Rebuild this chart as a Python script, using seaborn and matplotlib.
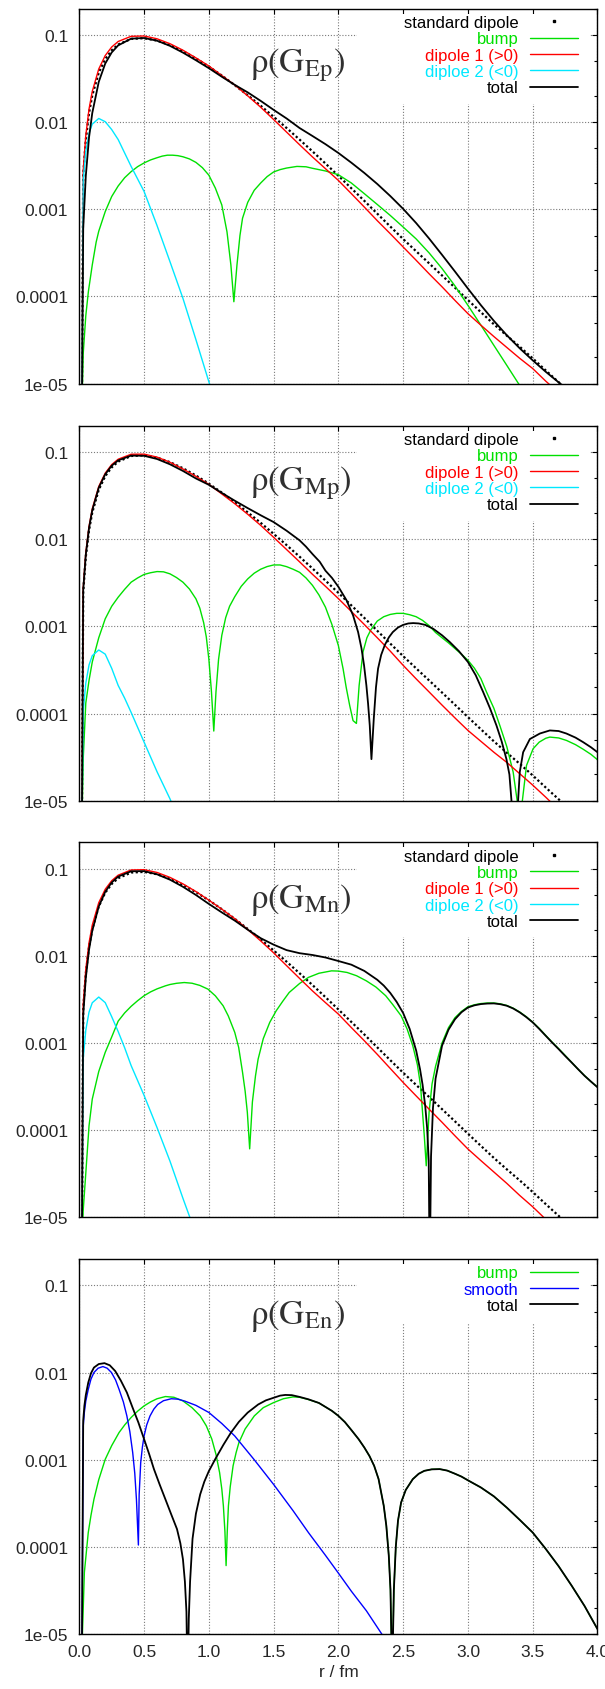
import matplotlib
matplotlib.use("Agg")
import matplotlib.pyplot as plt
from matplotlib.lines import Line2D
from matplotlib.patches import Rectangle
from matplotlib.ticker import LogLocator, NullFormatter
import seaborn as sns

# ---------------------------------------------------------------- data
# radial grid (fm) shared by the smooth dipole-type curves
R_GRID = [0.02, 0.03, 0.05, 0.075, 0.1, 0.15, 0.2, 0.25, 0.3, 0.4, 0.5, 0.6, 0.7,
          0.8, 0.9, 1.0, 1.1, 1.2, 1.3, 1.4, 1.5, 1.6, 1.7, 1.8, 1.9, 2.0, 2.1,
          2.2, 2.3, 2.4, 2.5, 2.6, 2.7, 2.8, 2.9, 3.0, 3.1, 3.2, 3.3, 3.4, 3.5,
          3.6, 3.7, 3.8]

# standard dipole (same in the three upper panels)
STD_DIPOLE = [5e-6, 2.45e-3, 6.26e-3, 0.01266, 0.0202, 0.0368, 0.0528, 0.0666,
              0.0775, 0.0899, 0.0916, 0.0861, 0.0764, 0.0651, 0.0537, 0.0433,
              0.0342, 0.0265, 0.0203, 0.0154, 0.0115, 8.55e-3, 6.3e-3, 4.61e-3,
              3.35e-3, 2.42e-3, 1.74e-3, 1.25e-3, 8.9e-4, 6.35e-4, 4.55e-4,
              3.3e-4, 2.4e-4, 1.74e-4, 1.26e-4, 9.1e-5, 6.6e-5, 4.8e-5, 3.55e-5,
              2.65e-5, 1.95e-5, 1.42e-5, 1.04e-5, 7.6e-6]

# ---- rho(G_Ep)
EP_DIPOLE1 = [5e-6, 2.75e-3, 6.99e-3, 0.01409, 0.02245, 0.0406, 0.0579, 0.0726,
              0.084, 0.0963, 0.0971, 0.0902, 0.0792, 0.0667, 0.0545, 0.044,
              0.0342, 0.0266, 0.02, 0.0148, 0.0107, 7.67e-3, 5.5e-3, 3.98e-3,
              2.92e-3, 2.14e-3, 1.51e-3, 1.06e-3, 7.4e-4, 5.25e-4, 3.69e-4,
              2.6e-4, 1.82e-4, 1.29e-4, 9.0e-5, 6.35e-5, 4.68e-5, 3.47e-5,
              2.6e-5, 1.95e-5, 1.49e-5, 1.07e-5, 7.9e-6, 5.8e-6]
EP_TOTAL = [5e-6, 6.0e-4, 2.4e-3, 6.67e-3, 0.0127, 0.0289, 0.0469, 0.0629,
            0.0758, 0.0905, 0.0921, 0.0857, 0.0748, 0.0626, 0.0512, 0.0415,
            0.0331, 0.0267, 0.0219, 0.0175, 0.0138, 0.011, 8.55e-3, 6.92e-3,
            5.58e-3, 4.42e-3, 3.42e-3, 2.61e-3, 1.95e-3, 1.42e-3, 1.01e-3,
            6.95e-4, 4.62e-4, 3.0e-4, 1.93e-4, 1.23e-4, 7.94e-5, 5.25e-5,
            3.59e-5, 2.54e-5, 1.85e-5, 1.37e-5, 1.035e-5, 7.9e-6]
EP_R_DIPOLE2 = [0.02, 0.03, 0.05, 0.075, 0.1, 0.15, 0.2, 0.25, 0.3, 0.4, 0.5,
                0.6, 0.7, 0.8, 0.9, 1.0, 1.1]
EP_DIPOLE2 = [5e-6, 2.15e-3, 4.59e-3, 7.42e-3, 9.48e-3, 0.011, 0.0101, 8.2e-3,
              6.3e-3, 3.1e-3, 1.6e-3, 6.5e-4, 2.5e-4, 9.5e-5, 3.2e-5, 1.05e-5,
              3.5e-6]
EP_R_BUMP = [0.02, 0.03, 0.05, 0.07, 0.1, 0.13, 0.15, 0.2, 0.25, 0.3, 0.35, 0.4,
             0.45, 0.5, 0.55, 0.6, 0.64, 0.68, 0.72, 0.76, 0.8, 0.85, 0.9, 0.95,
             1.0, 1.05, 1.1, 1.14, 1.17, 1.193, 1.217, 1.24, 1.26, 1.3, 1.35,
             1.4, 1.45, 1.5, 1.55, 1.6, 1.68, 1.75, 1.8, 1.9, 2.0, 2.1, 2.2, 2.3,
             2.4, 2.5, 2.6, 2.7, 2.8, 2.9, 3.0, 3.1, 3.2, 3.3, 3.4]
EP_BUMP = [5e-6, 2.2e-5, 6e-5, 1.14e-4, 2.3e-4, 4.2e-4, 5.6e-4, 9.4e-4, 1.4e-3,
           1.85e-3, 2.3e-3, 2.7e-3, 3.08e-3, 3.4e-3, 3.68e-3, 3.9e-3, 4.07e-3,
           4.17e-3, 4.17e-3, 4.12e-3, 4.0e-3, 3.78e-3, 3.45e-3, 3.0e-3, 2.46e-3,
           1.75e-3, 1.12e-3, 5.5e-4, 2.3e-4, 8.7e-5, 2.3e-4, 5e-4, 7.9e-4,
           1.2e-3, 1.65e-3, 2.0e-3, 2.37e-3, 2.68e-3, 2.85e-3, 2.97e-3, 3.1e-3,
           3.07e-3, 2.95e-3, 2.75e-3, 2.49e-3, 2.0e-3, 1.51e-3, 1.135e-3,
           8.5e-4, 6.25e-4, 4.57e-4, 3.16e-4, 2.09e-4, 1.32e-4, 7.9e-5, 4.68e-5,
           2.75e-5, 1.62e-5, 9.5e-6]

# ---- rho(G_Mp)
MP_DIPOLE1 = [5e-6, 2.74e-3, 6.96e-3, 0.01403, 0.02231, 0.0402, 0.0572, 0.0717,
              0.0826, 0.0942, 0.0944, 0.0873, 0.0762, 0.0638, 0.0525, 0.0425,
              0.033, 0.0255, 0.0193, 0.0144, 0.0105, 7.6e-3, 5.5e-3, 3.95e-3,
              2.88e-3, 2.08e-3, 1.48e-3, 1.05e-3, 7.4e-4, 5.2e-4, 3.57e-4,
              2.5e-4, 1.77e-4, 1.25e-4, 8.9e-5, 6.4e-5, 4.8e-5, 3.6e-5, 2.75e-5,
              2.04e-5, 1.51e-5, 1.1e-5, 7.9e-6, 5.7e-6]
MP_R_DIPOLE2 = [0.02, 0.03, 0.05, 0.075, 0.1, 0.15, 0.2, 0.25, 0.3, 0.35, 0.4,
                0.5, 0.6, 0.7, 0.75]
MP_DIPOLE2 = [5e-6, 1.05e-4, 2.23e-4, 3.61e-4, 4.61e-4, 5.36e-4, 4.8e-4, 3.3e-4,
              2.1e-4, 1.5e-4, 1.03e-4, 4.7e-5, 2.15e-5, 1.05e-5, 7e-6]
MP_R_BUMP = [0.02, 0.03, 0.05, 0.075, 0.1, 0.15, 0.2, 0.25, 0.3, 0.35, 0.4, 0.45,
             0.5, 0.55, 0.6, 0.65, 0.7, 0.75, 0.8, 0.85, 0.9, 0.93, 0.96, 0.98,
             1.0, 1.02, 1.038, 1.055, 1.075, 1.1, 1.13, 1.16, 1.2, 1.25, 1.3,
             1.35, 1.4, 1.45, 1.5, 1.55, 1.6, 1.65, 1.7, 1.75, 1.8, 1.85, 1.9,
             1.95, 2.0, 2.036, 2.06, 2.087, 2.113, 2.139, 2.16, 2.19, 2.22, 2.25,
             2.3, 2.35, 2.4, 2.45, 2.5, 2.55, 2.6, 2.65, 2.7, 2.75, 2.8, 2.85,
             2.9, 2.95, 3.0, 3.05, 3.1, 3.143, 3.2, 3.246, 3.3, 3.349, 3.38, 3.4,
             3.42, 3.452, 3.503, 3.55, 3.6, 3.632, 3.7, 3.76, 3.83, 3.889, 3.95,
             4.0]
MP_BUMP = [5e-6, 3e-5, 1.32e-4, 2.4e-4, 3.9e-4, 7.4e-4, 1.22e-3, 1.7e-3, 2.16e-3,
           2.66e-3, 3.21e-3, 3.59e-3, 3.94e-3, 4.12e-3, 4.25e-3, 4.22e-3, 4.0e-3,
           3.63e-3, 3.21e-3, 2.68e-3, 2.07e-3, 1.62e-3, 1.1e-3, 7.6e-4, 4.2e-4,
           1.78e-4, 6.3e-5, 1.78e-4, 4.2e-4, 7.9e-4, 1.26e-3, 1.7e-3, 2.19e-3,
           2.88e-3, 3.5e-3, 4.07e-3, 4.52e-3, 4.85e-3, 5.06e-3, 5.06e-3, 4.84e-3,
           4.52e-3, 4.17e-3, 3.59e-3, 2.95e-3, 2.29e-3, 1.66e-3, 1.05e-3, 6.0e-4,
           3.27e-4, 2.0e-4, 1.24e-4, 8.3e-5, 7.7e-5, 2.1e-4, 5.1e-4, 7.4e-4,
           9.1e-4, 1.15e-3, 1.29e-3, 1.37e-3, 1.41e-3, 1.41e-3, 1.36e-3, 1.29e-3,
           1.17e-3, 1.02e-3, 8.5e-4, 7.4e-4, 6.46e-4, 5.56e-4, 4.79e-4, 4.08e-4,
           3.31e-4, 2.51e-4, 1.77e-4, 1.15e-4, 7.3e-5, 4.17e-5, 2.13e-5, 1e-5,
           2e-6, 1e-5, 2.54e-5, 3.95e-5, 4.7e-5, 5.2e-5, 5.37e-5, 5.25e-5,
           4.92e-5, 4.4e-5, 3.9e-5, 3.4e-5, 2.95e-5]
MP_R_TOTAL = [0.02, 0.03, 0.05, 0.075, 0.1, 0.15, 0.2, 0.25, 0.3, 0.4, 0.5, 0.6,
              0.7, 0.8, 0.9, 1.0, 1.1, 1.2, 1.3, 1.4, 1.5, 1.6, 1.7, 1.75, 1.8,
              1.856, 1.9, 1.95, 2.0, 2.062, 2.113, 2.152, 2.178, 2.198, 2.216,
              2.229, 2.242, 2.255, 2.273, 2.29, 2.306, 2.33, 2.358, 2.39, 2.42,
              2.46, 2.5, 2.54, 2.577, 2.62, 2.67, 2.731, 2.8, 2.86, 2.93, 3.0,
              3.06, 3.117, 3.17, 3.22, 3.26, 3.297, 3.32, 3.336, 3.36, 3.387, 3.4,
              3.426, 3.478, 3.555, 3.632, 3.7, 3.76, 3.83, 3.889, 3.95, 4.0]
MP_TOTAL = [5e-6, 2.6e-3, 6.62e-3, 0.01342, 0.0215, 0.0389, 0.0555, 0.0696,
            0.0801, 0.0909, 0.0904, 0.0831, 0.0722, 0.0606, 0.0497, 0.042,
            0.0339, 0.0276, 0.0227, 0.0188, 0.0157, 0.0125, 9.7e-3, 8.2e-3,
            6.75e-3, 5.5e-3, 4.35e-3, 3.6e-3, 2.84e-3, 2.0e-3, 1.34e-3, 8.6e-4,
            5.6e-4, 3.57e-4, 2.1e-4, 1.3e-4, 7.3e-5, 3.0e-5, 8.7e-5, 2.0e-4,
            3.27e-4, 4.7e-4, 6.1e-4, 7.5e-4, 8.6e-4, 9.7e-4, 1.04e-3, 1.08e-3,
            1.09e-3, 1.08e-3, 1.04e-3, 9.4e-4, 7.9e-4, 6.6e-4, 5.2e-4, 3.9e-4,
            2.75e-4, 1.77e-4, 1.15e-4, 7.3e-5, 4.8e-5, 3.0e-5, 2.0e-5, 1e-5,
            2e-6, 1e-5, 2.13e-5, 3.6e-5, 5.1e-5, 5.9e-5, 6.4e-5, 6.3e-5, 5.9e-5,
            5.3e-5, 4.7e-5, 4.1e-5, 3.6e-5]

# ---- rho(G_Mn)
MN_DIPOLE1 = [5e-6, 2.75e-3, 6.99e-3, 0.01409, 0.02245, 0.0406, 0.0579, 0.0726,
              0.084, 0.0963, 0.0971, 0.0902, 0.0792, 0.0667, 0.0545, 0.0434,
              0.0342, 0.0266, 0.02, 0.0148, 0.0108, 7.7e-3, 5.5e-3, 3.95e-3,
              2.9e-3, 2.14e-3, 1.5e-3, 1.06e-3, 7.4e-4, 5.1e-4, 3.52e-4,
              2.47e-4, 1.74e-4, 1.23e-4, 8.6e-5, 6.07e-5, 4.47e-5, 3.31e-5,
              2.45e-5, 1.78e-5, 1.32e-5, 9.5e-6, 6.8e-6, 5e-6]
MN_R_DIPOLE2 = [0.02, 0.03, 0.05, 0.075, 0.1, 0.15, 0.2, 0.25, 0.3, 0.35, 0.4,
                0.5, 0.6, 0.7, 0.8, 0.85, 0.9]
MN_DIPOLE2 = [5e-6, 6.55e-4, 1.4e-3, 2.26e-3, 2.89e-3, 3.36e-3, 2.9e-3, 2.0e-3,
              1.35e-3, 8.8e-4, 5.5e-4, 2.5e-4, 1.07e-4, 4.4e-5, 1.65e-5,
              1.03e-5, 6.5e-6]
MN_R_BUMP = [0.02, 0.03, 0.05, 0.075, 0.1, 0.15, 0.2, 0.25, 0.3, 0.35, 0.4, 0.45,
             0.5, 0.55, 0.6, 0.665, 0.7, 0.75, 0.81, 0.87, 0.93, 0.993, 1.05,
             1.11, 1.15, 1.2, 1.23, 1.26, 1.28, 1.297, 1.315, 1.336, 1.36, 1.38,
             1.42, 1.47, 1.52, 1.57, 1.62, 1.7, 1.768, 1.85, 1.947, 2.0, 2.067,
             2.14, 2.216, 2.29, 2.365, 2.42, 2.484, 2.53, 2.574, 2.61, 2.634,
             2.663, 2.678, 2.7, 2.723, 2.75, 2.8, 2.85, 2.9, 2.95, 3.0, 3.05,
             3.1, 3.15, 3.2, 3.25, 3.3, 3.35, 3.4, 3.45, 3.5, 3.55, 3.6, 3.65,
             3.7, 3.75, 3.8, 3.85, 3.9, 3.95, 4.0]
MN_BUMP = [5e-6, 1.2e-5, 3.2e-5, 1.12e-4, 2.27e-4, 4.7e-4, 7.8e-4, 1.17e-3,
           1.78e-3, 2.21e-3, 2.63e-3, 3.05e-3, 3.48e-3, 3.85e-3, 4.17e-3,
           4.52e-3, 4.68e-3, 4.83e-3, 4.93e-3, 4.84e-3, 4.57e-3, 4.14e-3,
           3.47e-3, 2.67e-3, 2.04e-3, 1.32e-3, 8.9e-4, 4.6e-4, 2.8e-4, 1.6e-4,
           6.1e-5, 2.1e-4, 4.2e-4, 6.5e-4, 1.12e-3, 1.72e-3, 2.34e-3, 3.0e-3,
           3.79e-3, 4.8e-3, 5.64e-3, 6.3e-3, 6.71e-3, 6.67e-3, 6.43e-3, 5.9e-3,
           5.15e-3, 4.37e-3, 3.48e-3, 2.75e-3, 2.05e-3, 1.45e-3, 9.3e-4, 5.6e-4,
           3.24e-4, 8.6e-5, 3.9e-5, 1.6e-4, 3.4e-4, 5.4e-4, 1.0e-3, 1.5e-3,
           1.95e-3, 2.3e-3, 2.6e-3, 2.74e-3, 2.83e-3, 2.87e-3, 2.87e-3, 2.81e-3,
           2.69e-3, 2.5e-3, 2.26e-3, 2.0e-3, 1.73e-3, 1.47e-3, 1.22e-3, 1.02e-3,
           8.6e-4, 7.2e-4, 6.0e-4, 5.0e-4, 4.22e-4, 3.6e-4, 3.12e-4]
MN_R_TOTAL = [0.02, 0.03, 0.05, 0.075, 0.1, 0.15, 0.2, 0.25, 0.3, 0.4, 0.5, 0.6,
              0.7, 0.8, 0.9, 1.0, 1.1, 1.2, 1.3, 1.4, 1.5, 1.6, 1.7, 1.8, 1.9,
              2.0, 2.1, 2.2, 2.3, 2.35, 2.4, 2.45, 2.5, 2.55, 2.6, 2.63, 2.65,
              2.67, 2.685, 2.697, 2.705, 2.715, 2.73, 2.75, 2.8, 2.85, 2.9, 2.95,
              3.0, 3.05, 3.1, 3.15, 3.2, 3.25, 3.3, 3.35, 3.4, 3.45, 3.5, 3.55,
              3.6, 3.65, 3.7, 3.75, 3.8, 3.85, 3.9, 3.95, 4.0]
MN_TOTAL = [5e-6, 2.08e-3, 5.55e-3, 0.01172, 0.01933, 0.0367, 0.0542, 0.0693,
            0.0809, 0.0931, 0.0934, 0.0859, 0.0745, 0.0618, 0.0498, 0.0393,
            0.0314, 0.0253, 0.0199, 0.0159, 0.0134, 0.0116, 0.0107, 0.0102,
            9.55e-3, 8.7e-3, 7.9e-3, 6.7e-3, 5.3e-3, 4.55e-3, 3.75e-3, 2.95e-3,
            2.2e-3, 1.45e-3, 8.2e-4, 5.0e-4, 3.3e-4, 1.9e-4, 1.05e-4, 4.5e-5,
            2e-6, 5e-5, 1.8e-4, 3.9e-4, 9.3e-4, 1.42e-3, 1.87e-3, 2.25e-3,
            2.55e-3, 2.7e-3, 2.79e-3, 2.83e-3, 2.84e-3, 2.78e-3, 2.67e-3,
            2.48e-3, 2.24e-3, 1.98e-3, 1.72e-3, 1.45e-3, 1.21e-3, 1.01e-3,
            8.5e-4, 7.1e-4, 5.97e-4, 5.0e-4, 4.2e-4, 3.6e-4, 3.1e-4]

# ---- rho(G_En)
EN_R_BUMP = [0.02, 0.024, 0.039, 0.05, 0.069, 0.09, 0.113, 0.15, 0.2, 0.25,
             0.307, 0.35, 0.4, 0.45, 0.5, 0.55, 0.6, 0.665, 0.73, 0.8, 0.87,
             0.933, 0.98, 1.023, 1.055, 1.083, 1.1, 1.112, 1.124, 1.133, 1.142,
             1.151, 1.165, 1.187, 1.21, 1.232, 1.28, 1.351, 1.42, 1.5, 1.575,
             1.649, 1.7, 1.768, 1.85, 1.9, 1.95, 2.0, 2.05, 2.1, 2.156, 2.2,
             2.24, 2.276, 2.31, 2.35, 2.37, 2.389, 2.402, 2.415, 2.428, 2.443,
             2.46, 2.484, 2.52, 2.574, 2.62, 2.663, 2.72, 2.782, 2.84, 2.9, 2.95,
             3.0, 3.1, 3.2, 3.3, 3.4, 3.5, 3.6, 3.7, 3.8, 3.9, 4.0]
EN_BUMP = [5e-6, 1e-5, 5.1e-5, 7.5e-5, 1.46e-4, 2.3e-4, 3.52e-4, 5.9e-4, 1.01e-3,
           1.45e-3, 2.05e-3, 2.5e-3, 3.05e-3, 3.6e-3, 4.14e-3, 4.6e-3, 5.0e-3,
           5.3e-3, 5.2e-3, 4.72e-3, 3.95e-3, 3.18e-3, 2.45e-3, 1.72e-3, 1.15e-3,
           7.1e-4, 4.6e-4, 2.96e-4, 1.5e-4, 6.1e-5, 1.5e-4, 2.96e-4, 4.9e-4,
           8.5e-4, 1.2e-3, 1.57e-3, 2.25e-3, 3.18e-3, 3.95e-3, 4.52e-3, 5.0e-3,
           5.25e-3, 5.2e-3, 4.9e-3, 4.47e-3, 4.03e-3, 3.63e-3, 3.18e-3, 2.7e-3,
           2.19e-3, 1.72e-3, 1.38e-3, 1.1e-3, 8.5e-4, 6.0e-4, 2.96e-4, 1.74e-4,
           7.9e-5, 3.2e-5, 3e-6, 3.2e-5, 1.0e-4, 2.0e-4, 3.23e-4, 4.5e-4,
           5.98e-4, 6.9e-4, 7.45e-4, 7.75e-4, 7.8e-4, 7.5e-4, 6.9e-4, 6.4e-4,
           5.8e-4, 4.8e-4, 3.8e-4, 2.82e-4, 2.04e-4, 1.46e-4, 9.5e-5, 6.0e-5,
           3.6e-5, 2.1e-5, 1.14e-5]
EN_R_SMOOTH = [0.02, 0.03, 0.039, 0.05, 0.069, 0.09, 0.113, 0.145, 0.182, 0.215,
               0.248, 0.28, 0.307, 0.34, 0.367, 0.39, 0.412, 0.428, 0.441, 0.456,
               0.462, 0.474, 0.487, 0.5, 0.52, 0.546, 0.575, 0.605, 0.65, 0.71,
               0.76, 0.814, 0.9, 1.0, 1.1, 1.2, 1.35, 1.5, 1.65, 1.77, 1.9, 2.0,
               2.1, 2.216, 2.335, 2.4]
EN_SMOOTH = [5e-6, 2.4e-3, 3.5e-3, 4.7e-3, 6.4e-3, 8.4e-3, 0.01, 0.0112, 0.0117,
             0.0112, 0.01, 8.2e-3, 6.4e-3, 4.6e-3, 3.18e-3, 2.1e-3, 1.21e-3,
             7e-4, 3.5e-4, 1.05e-4, 4e-4, 9.3e-4, 1.4e-3, 1.87e-3, 2.5e-3,
             3.18e-3, 3.8e-3, 4.3e-3, 4.75e-3, 5.0e-3, 4.95e-3, 4.7e-3, 4.2e-3,
             3.48e-3, 2.6e-3, 1.87e-3, 1.0e-3, 5.2e-4, 2.6e-4, 1.45e-4, 8e-5,
             5.0e-5, 3.1e-5, 1.85e-5, 1e-5, 7e-6]
EN_R_TOTAL = [0.02, 0.03, 0.039, 0.05, 0.069, 0.09, 0.113, 0.15, 0.194, 0.235,
              0.277, 0.32, 0.367, 0.41, 0.456, 0.5, 0.54, 0.576, 0.62, 0.665,
              0.71, 0.754, 0.78, 0.8, 0.815, 0.827, 0.836, 0.845, 0.855, 0.874,
              0.9, 0.933, 0.965, 1.0, 1.05, 1.112, 1.17, 1.232, 1.3, 1.381, 1.44,
              1.5, 1.55, 1.59, 1.64, 1.7, 1.768, 1.85, 1.9, 1.95, 2.0, 2.05, 2.1,
              2.156, 2.2, 2.24, 2.276, 2.31, 2.35, 2.37, 2.389, 2.402, 2.415,
              2.428, 2.443, 2.46, 2.484, 2.52, 2.574, 2.62, 2.663, 2.72, 2.782,
              2.84, 2.9, 2.95, 3.0, 3.1, 3.2, 3.3, 3.4, 3.5, 3.6, 3.7, 3.8, 3.9,
              4.0]
EN_TOTAL = [5e-6, 2.8e-3, 4.14e-3, 5.5e-3, 7.66e-3, 9.8e-3, 0.0114, 0.0125,
            0.0128, 0.0121, 0.0104, 8.1e-3, 5.9e-3, 4.0e-3, 2.67e-3, 1.72e-3,
            1.15e-3, 7.8e-4, 5.2e-4, 3.5e-4, 2.35e-4, 1.6e-4, 1.1e-4, 7.2e-5,
            4.0e-5, 1.8e-5, 2e-6, 1.5e-5, 4e-5, 1.24e-4, 2.4e-4, 4.0e-4, 5.6e-4,
            7.4e-4, 1.02e-3, 1.48e-3, 2.04e-3, 2.72e-3, 3.47e-3, 4.3e-3,
            4.79e-3, 5.13e-3, 5.43e-3, 5.53e-3, 5.5e-3, 5.25e-3, 4.93e-3,
            4.47e-3, 4.03e-3, 3.63e-3, 3.18e-3, 2.7e-3, 2.19e-3, 1.72e-3,
            1.38e-3, 1.1e-3, 8.5e-4, 6.0e-4, 2.96e-4, 1.74e-4, 7.9e-5, 3.2e-5,
            3e-6, 3.2e-5, 1.0e-4, 2.0e-4, 3.23e-4, 4.5e-4, 5.98e-4, 6.9e-4,
            7.45e-4, 7.75e-4, 7.8e-4, 7.5e-4, 6.9e-4, 6.4e-4, 5.8e-4, 4.8e-4,
            3.8e-4, 2.82e-4, 2.04e-4, 1.46e-4, 9.5e-5, 6.0e-5, 3.6e-5, 2.1e-5,
            1.14e-5]

PANEL_TITLES = [r"$\mathrm{\rho}\left(\mathrm{G}_{\mathrm{Ep}}\right)$",
                r"$\mathrm{\rho}\left(\mathrm{G}_{\mathrm{Mp}}\right)$",
                r"$\mathrm{\rho}\left(\mathrm{G}_{\mathrm{Mn}}\right)$",
                r"$\mathrm{\rho}\left(\mathrm{G}_{\mathrm{En}}\right)$"]
Y_TICKS = [1e-5, 1e-4, 1e-3, 1e-2, 1e-1]
Y_TICK_LABELS = ["1e-05", "0.0001", "0.001", "0.01", "0.1"]
X_TICKS = [0.0, 0.5, 1.0, 1.5, 2.0, 2.5, 3.0, 3.5, 4.0]
X_TICK_LABELS = ["0.0", "0.5", "1.0", "1.5", "2.0", "2.5", "3.0", "3.5", "4.0"]

# ---------------------------------------------------------------- style
GREEN = "#00e000"
RED = "#ff0000"
CYAN = "#00e8ff"
BLUE = "#0000ff"
BLACK = "#000000"

sns.set_theme(style="white")
plt.rcParams["font.family"] = ["Liberation Sans", "DejaVu Sans"]
plt.rcParams["mathtext.fontset"] = "stix"

fig = plt.figure(figsize=(6.05, 16.9), dpi=100)
LEFT, WIDTH, HEIGHT = 0.1311, 0.8565, 0.2219
BOTTOMS = [0.7724, 0.5256, 0.2791, 0.0325]
axes = [fig.add_axes([LEFT, b, WIDTH, HEIGHT]) for b in BOTTOMS]

DOTS = (0, (1, 1.1))


def curve(ax, x, y, color, lw=1.0, ls="-"):
    sns.lineplot(x=x, y=y, color=color, linewidth=lw, linestyle=ls,
                 estimator=None, sort=False, legend=False, ax=ax)
    return ax.lines[-1]


def style_axes(ax, title, n_entries, bottom):
    ax.set_yscale("log")
    ax.set_xlim(0, 4)
    ax.set_ylim(1e-5, 0.2)
    ax.set_axisbelow(True)
    ax.set_yticks(Y_TICKS, Y_TICK_LABELS)
    ax.yaxis.set_minor_locator(LogLocator(base=10, subs=(2.0, 5.0)))
    ax.yaxis.set_minor_formatter(NullFormatter())
    ax.set_xticks(X_TICKS, X_TICK_LABELS if bottom else [""] * len(X_TICKS))
    ax.tick_params(which="both", direction="in", top=True, right=True,
                   color="black", width=0.8)
    ax.tick_params(which="major", length=3.6, labelsize=12.5)
    ax.tick_params(which="minor", length=2.0)
    ax.tick_params(axis="y", pad=8)
    ax.tick_params(axis="x", pad=7)
    ax.grid(True, which="major", color="#7a7a7a", linestyle=(0, (1, 1.6)),
            linewidth=0.8)
    for sp in ax.spines.values():
        sp.set_color("black")
        sp.set_linewidth(1.0)
    # opaque key area hides the grid behind the key
    box_h = 0.24 if n_entries == 5 else 0.16
    ax.add_patch(Rectangle((0.536, 0.987 - box_h), 0.449, box_h,
                           transform=ax.transAxes, facecolor="white",
                           edgecolor="none", zorder=0.8))
    ax.text(0.33, 0.85, title, transform=ax.transAxes, fontsize=25,
            ha="left", va="center", color="#303030")
    ax.set_xlabel("")
    ax.set_ylabel("")


def key(ax, handles, labels, colors):
    ax.legend(handles, labels, loc="upper right",
              bbox_to_anchor=(0.9624, 0.983), frameon=False, markerfirst=False,
              handlelength=2.87, handletextpad=0.72, labelspacing=0.08,
              borderpad=0, borderaxespad=0, fontsize=12, labelcolor=colors,
              numpoints=1)


dot_handle = Line2D([], [], linestyle="none", marker="s", markersize=1.5,
                    color=BLACK)
upper = [
    (EP_DIPOLE1, EP_R_DIPOLE2, EP_DIPOLE2, EP_R_BUMP, EP_BUMP, R_GRID, EP_TOTAL),
    (MP_DIPOLE1, MP_R_DIPOLE2, MP_DIPOLE2, MP_R_BUMP, MP_BUMP, MP_R_TOTAL, MP_TOTAL),
    (MN_DIPOLE1, MN_R_DIPOLE2, MN_DIPOLE2, MN_R_BUMP, MN_BUMP, MN_R_TOTAL, MN_TOTAL),
]
for i, (d1, r2, d2, rb, bump, rt, tot) in enumerate(upper):
    ax = axes[i]
    curve(ax, R_GRID, STD_DIPOLE, BLACK, lw=1.6, ls=DOTS)
    hb = curve(ax, rb, bump, GREEN, lw=1.0)
    h1 = curve(ax, R_GRID, d1, RED, lw=1.0)
    h2 = curve(ax, r2, d2, CYAN, lw=1.0)
    ht = curve(ax, rt, tot, BLACK, lw=1.3)
    style_axes(ax, PANEL_TITLES[i], 5, False)
    key(ax, [dot_handle, hb, h1, h2, ht],
        ["standard dipole", "bump", "dipole 1 (>0)", "diploe 2 (<0)", "total"],
        [BLACK, GREEN, RED, CYAN, BLACK])

ax = axes[3]
hb = curve(ax, EN_R_BUMP, EN_BUMP, GREEN, lw=1.0)
hs = curve(ax, EN_R_SMOOTH, EN_SMOOTH, BLUE, lw=1.0)
ht = curve(ax, EN_R_TOTAL, EN_TOTAL, BLACK, lw=1.3)
style_axes(ax, PANEL_TITLES[3], 3, True)
key(ax, [hb, hs, ht], ["bump", "smooth", "total"], [GREEN, BLUE, BLACK])
ax.set_xlabel("r / fm", fontsize=12.5, labelpad=4)

fig.savefig("out.png", dpi=100)
